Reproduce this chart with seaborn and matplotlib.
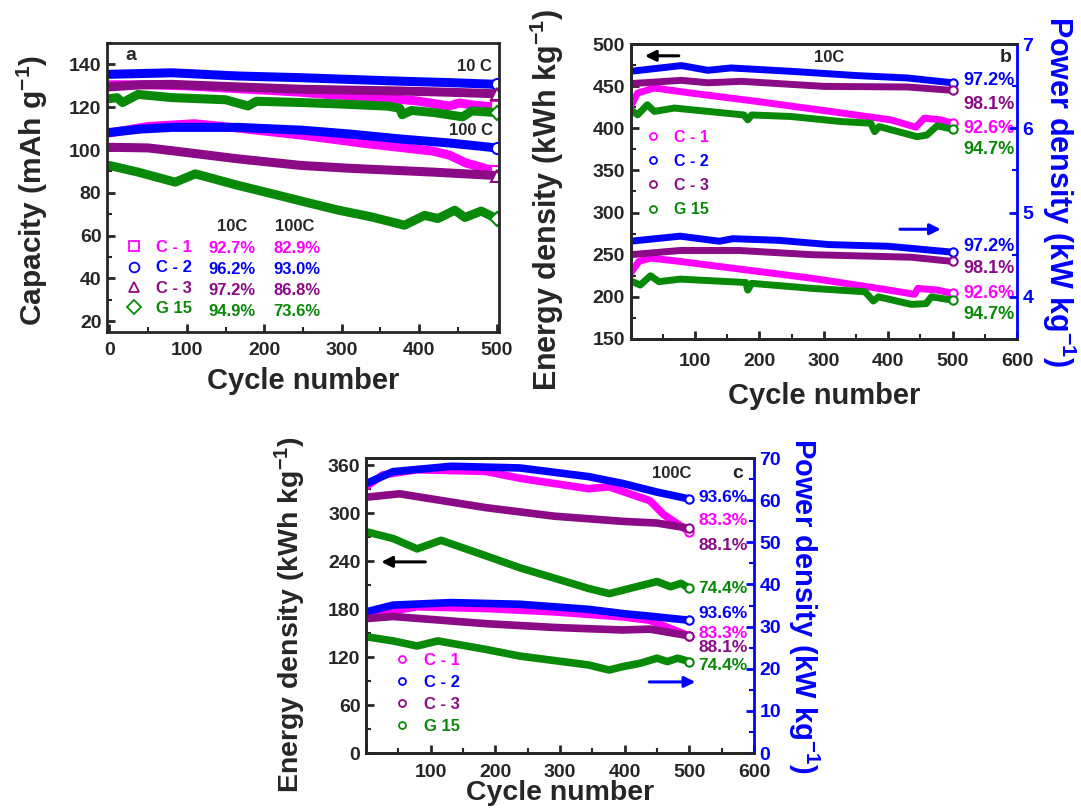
import matplotlib
matplotlib.use("Agg")
import matplotlib.pyplot as plt
import seaborn as sns
from matplotlib.lines import Line2D
from matplotlib.ticker import MultipleLocator

# ---- panel a: capacity (mAh/g) at 10 C and 100 C ----
a_c1_10_x = [0, 50, 100, 150, 200, 248, 280, 332, 396, 439, 452, 470, 500]
a_c1_10_y = [130.5, 130.5, 130, 129, 128, 127, 126, 125, 123, 120.6, 122, 121, 120]
a_c2_10_x = [0, 81, 166, 248, 310, 375, 440, 500]
a_c2_10_y = [135.4, 136.1, 134.6, 133.8, 133, 132.2, 131.5, 130.7]
a_c3_10_x = [0, 40, 81, 166, 248, 310, 375, 440, 500]
a_c3_10_y = [129.5, 130.5, 130.7, 129.5, 128.4, 128, 127.6, 127, 126.3]
a_g15_10_x = [0, 10, 17, 37, 81, 150, 179, 190, 248, 300, 360, 375, 378, 390, 420, 456, 468, 500]
a_g15_10_y = [124, 124.5, 122.2, 126, 124.5, 123.5, 120.6, 122.8, 122.2, 121.5, 120.5, 119.5, 116.5,
              118.5, 117.5, 115.5, 118.3, 117.5]

a_c1_100_x = [0, 50, 110, 160, 248, 332, 418, 440, 460, 480, 500]
a_c1_100_y = [108, 111, 112.3, 110.5, 107, 103, 99.5, 97.5, 94, 92, 89.7]
a_c2_100_x = [0, 40, 81, 166, 248, 310, 375, 439, 500]
a_c2_100_y = [108.2, 109.8, 110.6, 110.6, 109.3, 107.5, 105.2, 103.3, 101]
a_c3_100_x = [0, 50, 81, 166, 248, 310, 418, 500]
a_c3_100_y = [101.3, 101, 99.7, 95.9, 92.8, 91.5, 89.7, 88.1]
a_g15_100_x = [0, 37, 85, 111, 166, 210, 253, 296, 338, 381, 407, 424, 446, 459, 480, 500]
a_g15_100_y = [92.8, 89.7, 85, 88.9, 83.5, 79.6, 75.7, 71.9, 68.8, 64.9, 69.5, 68, 71.9, 68.5, 71.5, 68]

names = ["C - 1", "C - 2", "C - 3", "G 15"]
retention_10c = ["92.7%", "96.2%", "97.2%", "94.9%"]
retention_100c = ["82.9%", "93.0%", "86.8%", "73.6%"]

# ---- panel b: 10C energy (Wh/kg, left) and power (kW/kg, right) ----
b_c1_e_x = [0, 11, 37, 94, 197, 301, 404, 443, 456, 482, 500]
b_c1_e_y = [425.9, 441.8, 447.8, 441.8, 431.8, 421, 410, 401.3, 412, 410, 406]
b_c2_e_x = [0, 79, 120, 156, 249, 352, 430, 500]
b_c2_e_y = [467.6, 474.4, 468.8, 471.6, 467.6, 462.5, 459.7, 454]
b_c3_e_x = [0, 79, 120, 172, 301, 430, 500]
b_c3_e_y = [453, 456.9, 454, 455.7, 449.7, 449, 445]
b_g15_e_x = [0, 11, 26, 37, 68, 176, 182, 188, 249, 327, 373, 379, 386, 445, 460, 476, 500]
b_g15_e_y = [422, 416, 427.9, 420, 424, 415.8, 410, 415.8, 414, 408, 406, 396, 402, 390, 392, 402.9, 399]

b_c1_p_x = [0, 13, 31, 77, 179, 282, 385, 441, 446, 477, 500]
b_c1_p_y = [4.28, 4.42, 4.46, 4.42, 4.32, 4.22, 4.10, 4.03, 4.10, 4.08, 4.04]
b_c2_p_x = [0, 77, 138, 159, 231, 308, 400, 500]
b_c2_p_y = [4.66, 4.72, 4.66, 4.69, 4.67, 4.62, 4.60, 4.53]
b_c3_p_x = [0, 77, 169, 282, 436, 500]
b_c3_p_y = [4.50, 4.55, 4.55, 4.50, 4.47, 4.42]
b_g15_p_x = [0, 15, 31, 44, 77, 179, 182, 188, 282, 364, 377, 385, 436, 459, 467, 500]
b_g15_p_y = [4.19, 4.14, 4.25, 4.18, 4.21, 4.17, 4.08, 4.16, 4.10, 4.06, 3.95, 4.0, 3.91, 3.92, 4.0, 3.96]

# ---- panel c: 100C energy (Wh/kg, left) and power (kW/kg, right) ----
c_c1_e_x = [0, 26, 79, 185, 238, 291, 344, 376, 439, 460, 500]
c_c1_e_y = [333, 348, 354.4, 352.3, 343.7, 337.2, 330.7, 333, 315.7, 298.4, 276.9]
c_c2_e_x = [0, 42, 132, 238, 344, 397, 450, 500]
c_c2_e_y = [337, 352, 358.7, 356.6, 345.8, 337.2, 326.4, 317.8]
c_c3_e_x = [0, 52, 185, 291, 397, 450, 500]
c_c3_e_y = [320, 324.3, 307, 296.3, 289.8, 287.7, 281.2]
c_g15_e_x = [0, 42, 79, 116, 185, 238, 291, 344, 376, 418, 450, 471, 487, 500]
c_g15_e_y = [276.9, 268.3, 255.4, 266.1, 246.8, 231.7, 218.8, 205.9, 199.4, 208, 214.5, 208, 212.3, 205.9]

c_c1_p_x = [0, 79, 185, 291, 397, 439, 466, 500]
c_c1_p_y = [32.7, 34.7, 34.3, 33.5, 32.3, 31.5, 29.8, 27.8]
c_c2_p_x = [0, 42, 132, 238, 344, 397, 450, 500]
c_c2_p_y = [33.5, 35.1, 35.7, 35.3, 34.1, 33.1, 32.3, 31.5]
c_c3_p_x = [0, 42, 185, 291, 397, 439, 500]
c_c3_p_y = [31.9, 32.4, 30.7, 29.8, 29.2, 29.4, 27.8]
c_g15_p_x = [0, 42, 79, 111, 185, 238, 344, 376, 397, 424, 450, 466, 482, 500]
c_g15_p_y = [27.6, 26.6, 25.4, 26.6, 24.6, 23.0, 20.9, 19.7, 20.5, 21.3, 22.5, 21.7, 22.5, 21.7]

b_pct = ["97.2%", "98.1%", "92.6%", "94.7%"]   # top to bottom: C-2, C-3, C-1, G 15
c_pct = ["93.6%", "83.3%", "88.1%", "74.4%"]   # top to bottom: C-2, C-1, C-3, G 15

colors = ["#FF00FF", "#0000FF", "#8B0A85", "#088A08"]
BLUE = "#0000FF"

sns.set_style("ticks")
plt.rcParams["font.family"] = ["Liberation Sans", "DejaVu Sans"]
plt.rcParams["font.weight"] = "bold"
plt.rcParams["mathtext.fontset"] = "custom"
plt.rcParams["mathtext.rm"] = "Liberation Sans:bold"
plt.rcParams["mathtext.bf"] = "Liberation Sans:bold"
plt.rcParams["mathtext.default"] = "bf"

fig = plt.figure(figsize=(10.81, 8.09), dpi=100)
ax_a = fig.add_axes([0.099, 0.5896, 0.3626, 0.3572])
ax_b = fig.add_axes([0.5833, 0.581, 0.3575, 0.3646])
ax_c = fig.add_axes([0.3386, 0.0692, 0.3589, 0.3646])


def style_axis(ax, right_blue=False, xpad=6):
    for sp in ax.spines.values():
        sp.set_linewidth(2)
        sp.set_visible(True)
    ax.tick_params(which="major", direction="in", length=6, width=2, labelsize=14, pad=4)
    ax.tick_params(axis="x", which="major", pad=xpad)
    ax.tick_params(which="minor", direction="in", length=3.5, width=1.5)
    if right_blue:
        ax.spines["right"].set_color(BLUE)
        ax.tick_params(axis="y", which="both", colors=BLUE)
    for lab in ax.get_xticklabels() + ax.get_yticklabels():
        lab.set_fontweight("bold")


def draw(ax, x, y, color, lw, marker=None, ms=8):
    kw = {}
    if marker:
        kw = dict(marker=marker, markevery=[len(x) - 1], mfc="white", mec=color, ms=ms, mew=1.5)
    sns.lineplot(x=x, y=y, ax=ax, color=color, lw=lw, legend=False, solid_capstyle="round", **kw)


def legend_block(ax, anchor, fs, spacing, ms, hollow_marks):
    handles = [Line2D([], [], ls="none", marker=m, mfc="white" if m != "o" or ms > 6 else "none",
                      mec=c, ms=ms, mew=1.3) for m, c in zip(hollow_marks, colors)]
    leg = ax.legend(handles, names, loc="upper left", bbox_to_anchor=anchor, frameon=False,
                    fontsize=fs, handlelength=1.1, handletextpad=0.8, labelspacing=spacing,
                    borderaxespad=0, borderpad=0)
    for t, c in zip(leg.get_texts(), colors):
        t.set_color(c)
        t.set_fontweight("bold")
    return leg


# ================= panel a =================
mk = ["s", "o", "^", "D"]
a10 = [(a_c1_10_x, a_c1_10_y), (a_c2_10_x, a_c2_10_y), (a_c3_10_x, a_c3_10_y), (a_g15_10_x, a_g15_10_y)]
a100 = [(a_c1_100_x, a_c1_100_y), (a_c2_100_x, a_c2_100_y), (a_c3_100_x, a_c3_100_y),
        (a_g15_100_x, a_g15_100_y)]
for (x, y), c, m in zip(a10, colors, mk):
    draw(ax_a, x, y, c, 6.5, m, 8 if m != "D" else 7)
for (x, y), c, m in zip(a100, colors, mk):
    draw(ax_a, x, y, c, 6.5, m, 8 if m != "D" else 7)
ax_a.set_xlim(-3, 503)
ax_a.set_ylim(15, 150)
ax_a.xaxis.set_major_locator(MultipleLocator(100))
ax_a.xaxis.set_minor_locator(MultipleLocator(50))
ax_a.set_yticks([20, 40, 60, 80, 100, 120, 140])
ax_a.yaxis.set_minor_locator(MultipleLocator(10))
style_axis(ax_a, xpad=7)
ax_a.set_xlabel("Cycle number", fontsize=21, fontweight="bold", labelpad=6)
ax_a.set_ylabel("Capacity (mAh g$^{-1}$)", fontsize=21.5, fontweight="bold")
ax_a.yaxis.set_label_coords(-0.145, 0.49)
ax_a.text(0.046, 0.958, "a", transform=ax_a.transAxes, fontsize=14, fontweight="bold", va="center")
ax_a.text(0.982, 0.918, "10 C", transform=ax_a.transAxes, fontsize=12, fontweight="bold",
          ha="right", va="center")
ax_a.text(0.984, 0.699, "100 C", transform=ax_a.transAxes, fontsize=12, fontweight="bold",
          ha="right", va="center")
legend_block(ax_a, (0.045, 0.318), 12, 0.32, 7, mk)
ax_a.text(0.318, 0.364, "10C", transform=ax_a.transAxes, fontsize=12, fontweight="bold",
          ha="center", va="center")
ax_a.text(0.480, 0.364, "100C", transform=ax_a.transAxes, fontsize=12, fontweight="bold",
          ha="center", va="center")
rows_a = [0.290, 0.217, 0.145, 0.070]
for yy, r10, r100, c in zip(rows_a, retention_10c, retention_100c, colors):
    ax_a.text(0.258, yy, r10, transform=ax_a.transAxes, fontsize=12, fontweight="bold", color=c,
              va="center")
    ax_a.text(0.424, yy, r100, transform=ax_a.transAxes, fontsize=12, fontweight="bold", color=c,
              va="center")

# ================= panel b =================
ax_b2 = ax_b.twinx()
b_e = [(b_c1_e_x, b_c1_e_y), (b_c2_e_x, b_c2_e_y), (b_c3_e_x, b_c3_e_y), (b_g15_e_x, b_g15_e_y)]
b_p = [(b_c1_p_x, b_c1_p_y), (b_c2_p_x, b_c2_p_y), (b_c3_p_x, b_c3_p_y), (b_g15_p_x, b_g15_p_y)]
for (x, y), c in zip(b_e, colors):
    draw(ax_b, x, y, c, 5, "o", 6)
for (x, y), c in zip(b_p, colors):
    draw(ax_b2, x, y, c, 5, "o", 6)
ax_b.set_xlim(0, 600)
ax_b.set_ylim(150, 500)
ax_b2.set_ylim(3.5, 7)
ax_b.set_xticks([100, 200, 300, 400, 500, 600])
ax_b.xaxis.set_minor_locator(MultipleLocator(50))
ax_b.yaxis.set_major_locator(MultipleLocator(50))
ax_b.yaxis.set_minor_locator(MultipleLocator(25))
ax_b2.set_yticks([4, 5, 6, 7])
ax_b2.yaxis.set_minor_locator(MultipleLocator(0.5))
style_axis(ax_b, xpad=10)
style_axis(ax_b2, right_blue=True)
ax_b.spines["right"].set_visible(False)
ax_b.set_xlabel("Cycle number", fontsize=21, fontweight="bold", labelpad=9)
ax_b.set_ylabel("Energy density (kWh kg$^{-1}$)", fontsize=22, fontweight="bold")
ax_b.yaxis.set_label_coords(-0.168, 0.47)
ax_b2.set_ylabel("Power density (kW kg$^{-1}$)", fontsize=22, fontweight="bold", color=BLUE,
                 rotation=270, labelpad=32)
ax_b.text(0.515, 0.954, "10C", transform=ax_b.transAxes, fontsize=12, fontweight="bold",
          ha="center", va="center")
ax_b.text(0.97, 0.954, "b", transform=ax_b.transAxes, fontsize=14, fontweight="bold",
          ha="center", va="center")
ax_b.annotate("", xy=(0.030, 0.96), xytext=(0.132, 0.96), xycoords="axes fraction",
              arrowprops=dict(arrowstyle="-|>", color="black", lw=2.2, mutation_scale=16))
ax_b.annotate("", xy=(0.81, 0.372), xytext=(0.69, 0.372), xycoords="axes fraction",
              arrowprops=dict(arrowstyle="-|>", color=BLUE, lw=2.2, mutation_scale=16))
order_b = [1, 2, 0, 3]
rows_b_e = [0.876, 0.796, 0.712, 0.644]
rows_b_p = [0.313, 0.238, 0.153, 0.082]
for rows in (rows_b_e, rows_b_p):
    for yy, i, txt in zip(rows, order_b, b_pct):
        ax_b.text(0.862, yy, txt, transform=ax_b.transAxes, fontsize=13, fontweight="bold",
                  color=colors[i], va="center")
legend_block(ax_b, (0.035, 0.71), 11.5, 0.58, 5, ["o"] * 4)

# ================= panel c =================
ax_c2 = ax_c.twinx()
c_e = [(c_c1_e_x, c_c1_e_y), (c_c2_e_x, c_c2_e_y), (c_c3_e_x, c_c3_e_y), (c_g15_e_x, c_g15_e_y)]
c_p = [(c_c1_p_x, c_c1_p_y), (c_c2_p_x, c_c2_p_y), (c_c3_p_x, c_c3_p_y), (c_g15_p_x, c_g15_p_y)]
for (x, y), c in zip(c_e, colors):
    draw(ax_c, x, y, c, 5.5, "o", 6)
for (x, y), c in zip(c_p, colors):
    draw(ax_c2, x, y, c, 5.5, "o", 6)
ax_c.set_xlim(0, 600)
ax_c.set_ylim(0, 369)
ax_c2.set_ylim(0, 70)
ax_c.set_xticks([100, 200, 300, 400, 500, 600])
ax_c.xaxis.set_minor_locator(MultipleLocator(50))
ax_c.set_yticks([0, 60, 120, 180, 240, 300, 360])
ax_c.yaxis.set_minor_locator(MultipleLocator(30))
ax_c2.yaxis.set_major_locator(MultipleLocator(10))
ax_c2.yaxis.set_minor_locator(MultipleLocator(5))
style_axis(ax_c, xpad=8)
style_axis(ax_c2, right_blue=True)
ax_c.spines["right"].set_visible(False)
ax_c.set_xlabel("Cycle number", fontsize=20.5, fontweight="bold", labelpad=-1)
ax_c.set_ylabel("Energy density (kWh kg$^{-1}$)", fontsize=20.5, fontweight="bold")
ax_c.yaxis.set_label_coords(-0.15, 0.47)
ax_c2.set_ylabel("Power density (kW kg$^{-1}$)", fontsize=21, fontweight="bold", color=BLUE,
                 rotation=270, labelpad=29)
ax_c.text(0.789, 0.948, "100C", transform=ax_c.transAxes, fontsize=12, fontweight="bold",
          ha="center", va="center")
ax_c.text(0.959, 0.948, "c", transform=ax_c.transAxes, fontsize=14, fontweight="bold",
          ha="center", va="center")
ax_c.annotate("", xy=(0.032, 0.648), xytext=(0.160, 0.648), xycoords="axes fraction",
              arrowprops=dict(arrowstyle="-|>", color="black", lw=2.2, mutation_scale=16))
ax_c.annotate("", xy=(0.856, 0.241), xytext=(0.723, 0.241), xycoords="axes fraction",
              arrowprops=dict(arrowstyle="-|>", color=BLUE, lw=2.2, mutation_scale=16))
order_c = [1, 0, 2, 3]
rows_c_e = [0.867, 0.788, 0.704, 0.558]
rows_c_p = [0.472, 0.406, 0.357, 0.298]
for rows in (rows_c_e, rows_c_p):
    for yy, i, txt in zip(rows, order_c, c_pct):
        ax_c.text(0.857, yy, txt, transform=ax_c.transAxes, fontsize=12.5, fontweight="bold",
                  color=colors[i], va="center")
legend_block(ax_c, (0.068, 0.34), 12, 0.42, 5, ["o"] * 4)

fig.savefig("out.png", dpi=100)
